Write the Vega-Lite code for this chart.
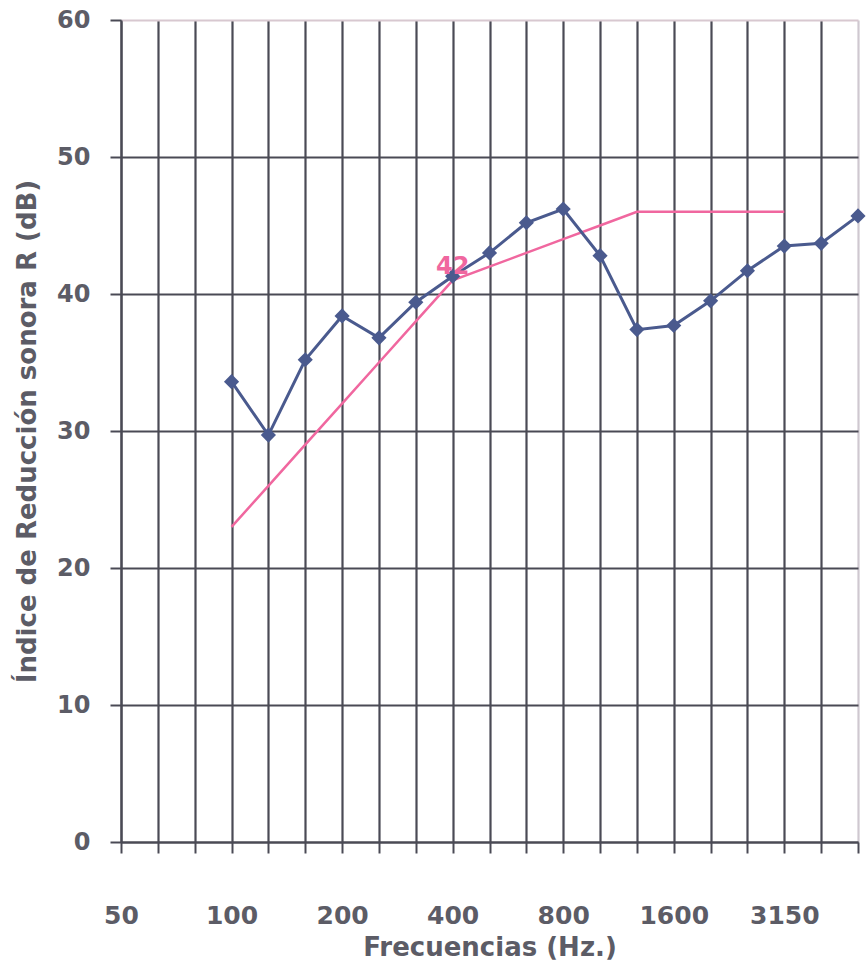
{
  "$schema": "https://vega.github.io/schema/vega-lite/v6.json",
  "width": 737,
  "height": 822,
  "autosize": "none",
  "padding": {"left": 121, "top": 20, "right": 8, "bottom": 121},
  "background": "white",
  "config": {
    "view": {"stroke": null},
    "axis": {
      "labelFont": "DejaVu Sans",
      "labelFontWeight": "bold",
      "labelColor": "#5c5c66",
      "titleFont": "DejaVu Sans",
      "titleFontWeight": "bold",
      "titleColor": "#5c5c66",
      "titleFontSize": 26,
      "domainColor": "#4a4a55",
      "domainWidth": 2,
      "tickColor": "#4a4a55",
      "tickWidth": 2,
      "tickSize": 11,
      "gridWidth": 2.2,
      "gridOpacity": 1
    }
  },
  "data": {
    "values": [
      {"freq": "100", "R": 33.6, "ref": 23},
      {"freq": "125", "R": 29.7, "ref": 26},
      {"freq": "160", "R": 35.2, "ref": 29},
      {"freq": "200", "R": 38.4, "ref": 32},
      {"freq": "250", "R": 36.8, "ref": 35},
      {"freq": "315", "R": 39.4, "ref": 38},
      {"freq": "400", "R": 41.3, "ref": 41},
      {"freq": "500", "R": 43.0, "ref": 42},
      {"freq": "630", "R": 45.2, "ref": 43},
      {"freq": "800", "R": 46.2, "ref": 44},
      {"freq": "1000", "R": 42.8, "ref": 45},
      {"freq": "1250", "R": 37.4, "ref": 46},
      {"freq": "1600", "R": 37.7, "ref": 46},
      {"freq": "2000", "R": 39.5, "ref": 46},
      {"freq": "2500", "R": 41.7, "ref": 46},
      {"freq": "3150", "R": 43.5, "ref": 46},
      {"freq": "4000", "R": 43.7, "ref": null},
      {"freq": "5000", "R": 45.7, "ref": null}
    ]
  },
  "encoding": {
    "x": {
      "field": "freq",
      "type": "ordinal",
      "sort": null,
      "scale": {
        "type": "point",
        "padding": 0,
        "domain": ["50", "63", "80", "100", "125", "160", "200", "250", "315", "400", "500", "630", "800", "1000", "1250", "1600", "2000", "2500", "3150", "4000", "5000"]
      },
      "axis": {
        "title": "Frecuencias (Hz.)",
        "labelAngle": 0,
        "labelFontSize": 25,
        "labelPadding": 50,
        "titlePadding": 6,
        "grid": true,
        "gridColor": {"condition": {"test": "datum.value == '5000'", "value": "#cfc8d0"}, "value": "#4a4a55"},
        "labelExpr": "(datum.label == '50' || datum.label == '100' || datum.label == '200' || datum.label == '400' || datum.label == '800' || datum.label == '1600' || datum.label == '3150') ? datum.label : ''"
      }
    }
  },
  "layer": [
    {
      "mark": {"type": "line", "color": "#f0679f", "strokeWidth": 2.5},
      "transform": [{"filter": "datum.ref != null"}],
      "encoding": {
        "y": {
          "field": "ref",
          "type": "quantitative",
          "title": "Índice de Reducción sonora R (dB)",
          "scale": {"domain": [0, 60], "nice": false},
          "axis": {
            "values": [0, 10, 20, 30, 40, 50, 60],
            "labelFontSize": 24,
            "labelPadding": 20,
            "titlePadding": 16,
            "grid": true,
            "gridColor": {"condition": {"test": "datum.value == 60", "value": "#d8c8d0"}, "value": "#4a4a55"}
          }
        }
      }
    },
    {
      "mark": {"type": "line", "color": "#4a5a8e", "strokeWidth": 3},
      "encoding": {
        "y": {"field": "R", "type": "quantitative", "title": "Índice de Reducción sonora R (dB)"}
      }
    },
    {
      "mark": {"type": "point", "shape": "diamond", "filled": true, "color": "#4a5a8e", "size": 230, "opacity": 1},
      "encoding": {
        "y": {"field": "R", "type": "quantitative", "title": "Índice de Reducción sonora R (dB)"}
      }
    },
    {
      "data": {"values": [{"freq": "400", "R": 42, "label": "42"}]},
      "mark": {"type": "text", "color": "#f0679f", "font": "DejaVu Sans", "fontWeight": "bold", "fontSize": 24, "baseline": "middle", "align": "center"},
      "encoding": {
        "y": {"field": "R", "type": "quantitative", "title": "Índice de Reducción sonora R (dB)"},
        "text": {"field": "label"}
      }
    }
  ]
}
